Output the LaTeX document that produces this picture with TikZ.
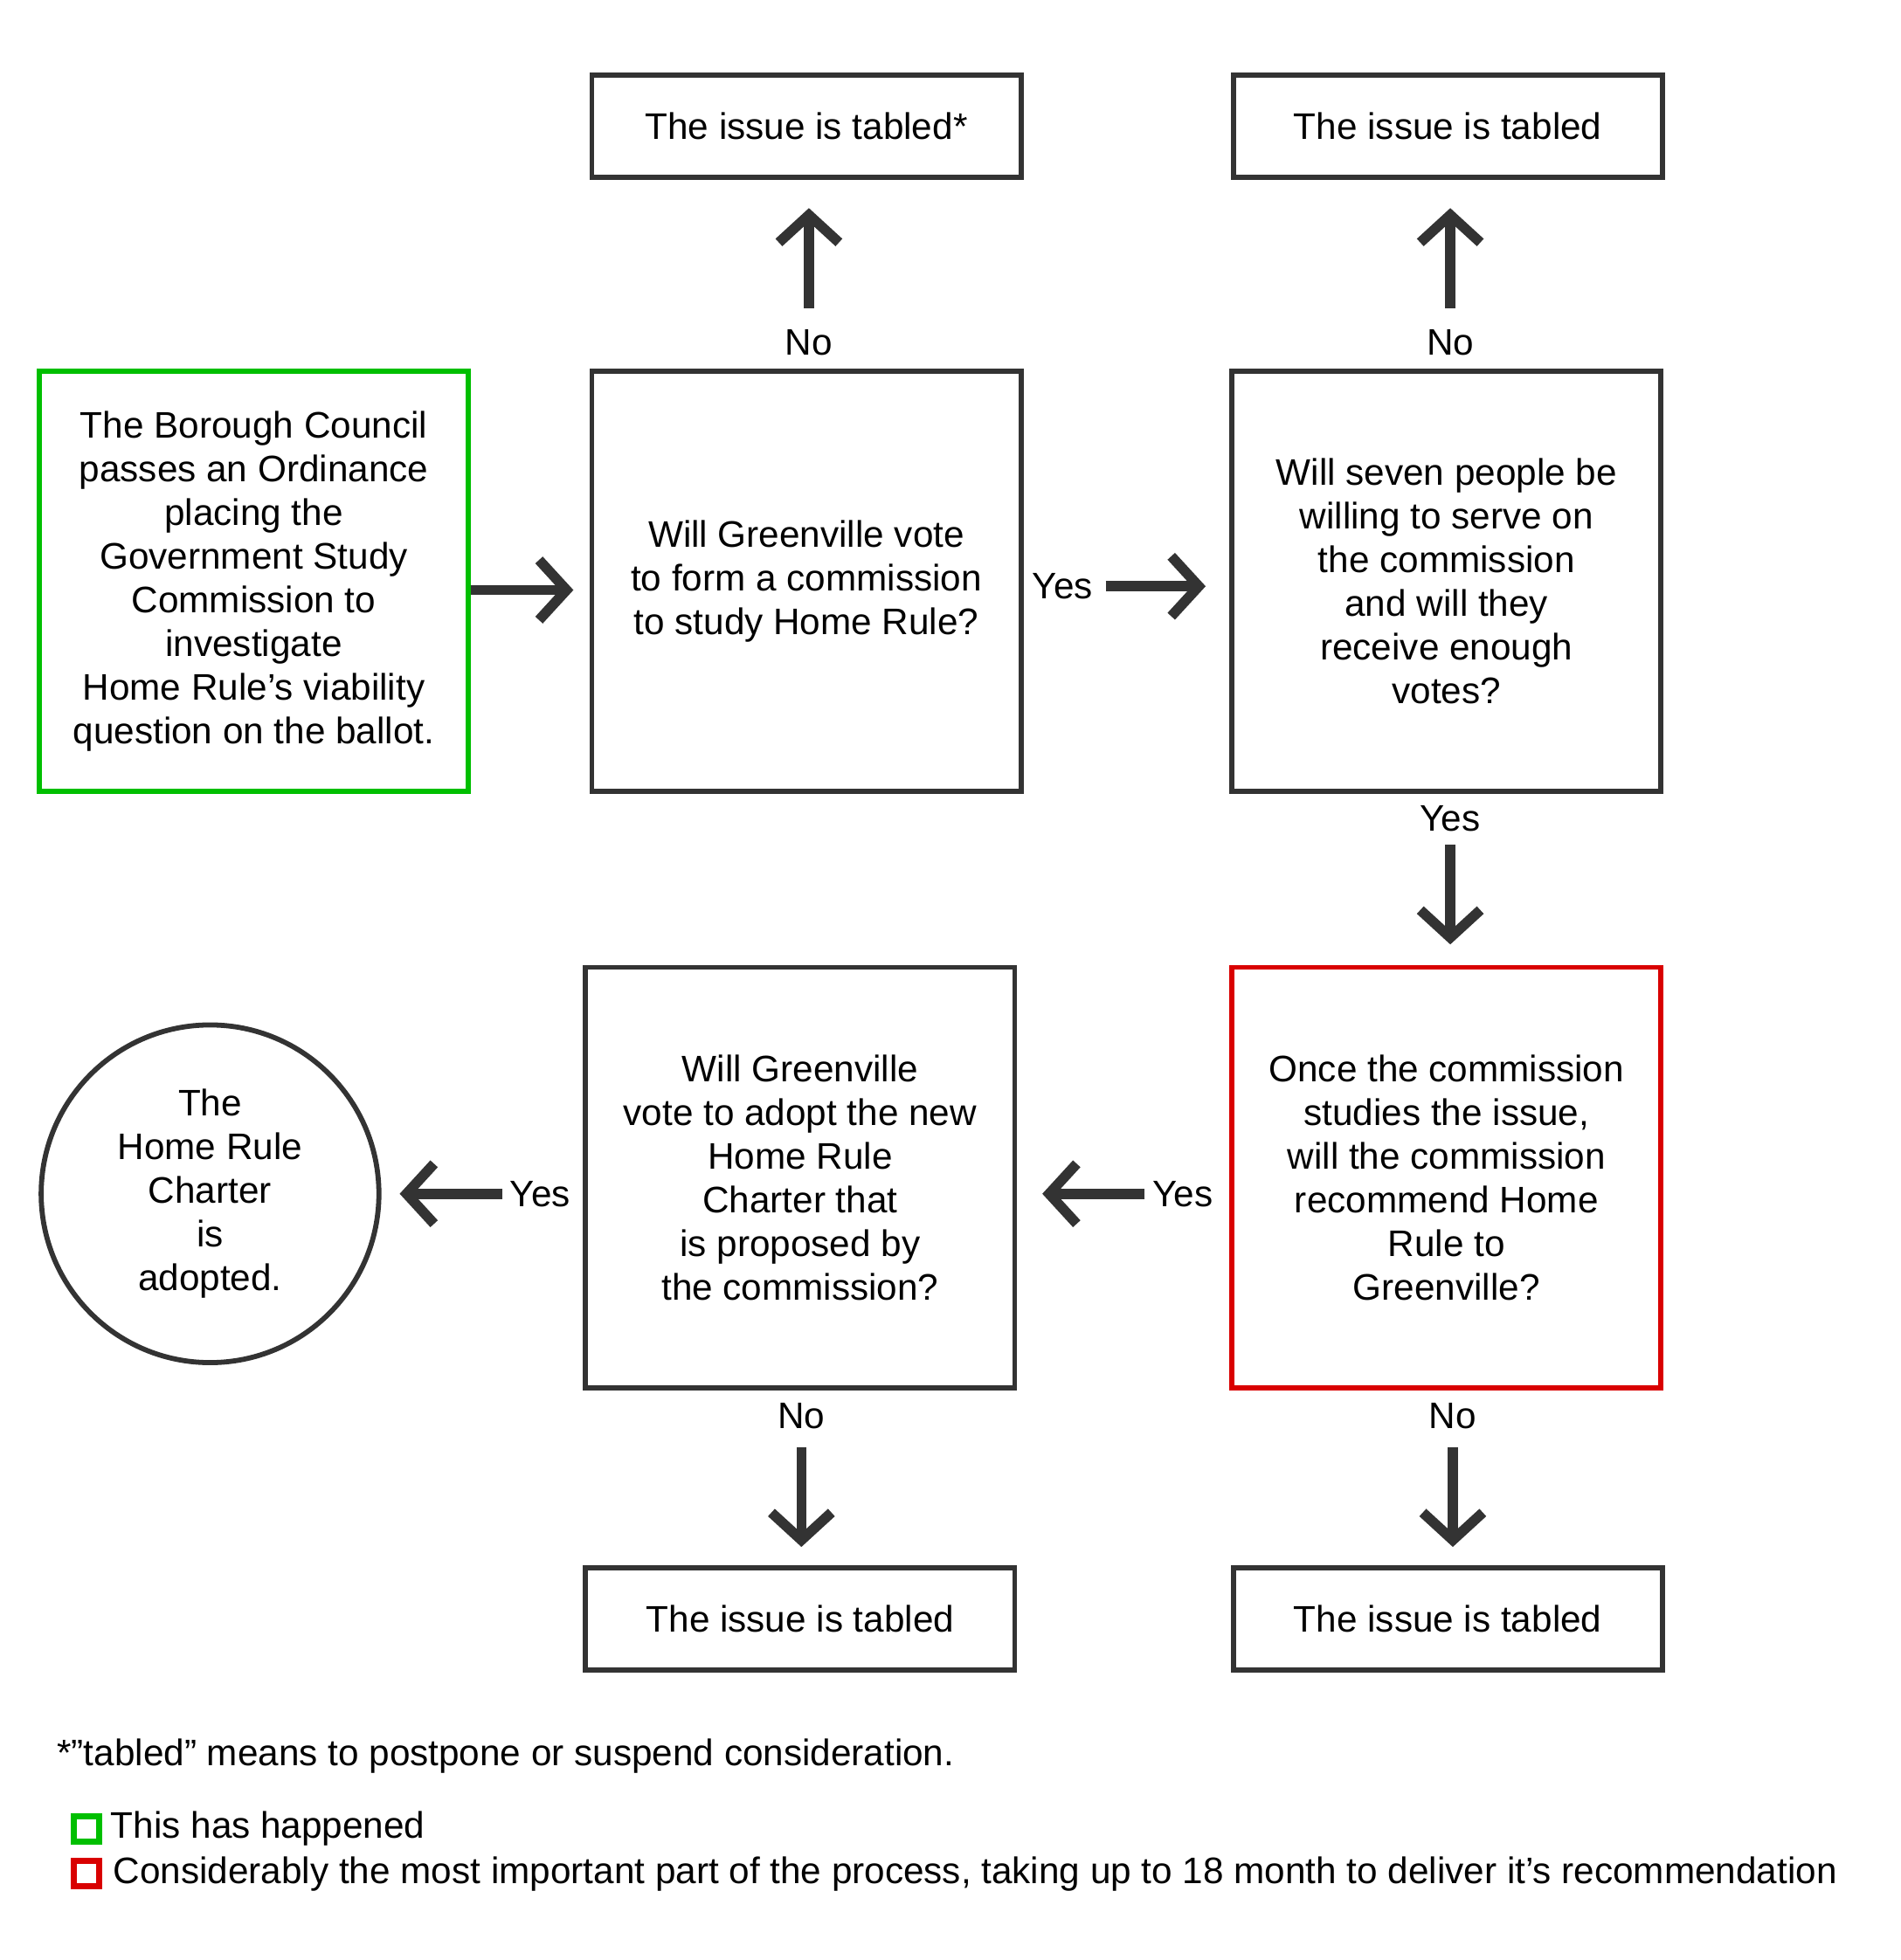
\documentclass[tikz,border=0pt]{standalone}
\usepackage{fontspec}
\setmainfont{Liberation Sans}
\usetikzlibrary{arrows.meta, positioning}

\begin{document}
\begin{tikzpicture}[x=0.01cm, y=-0.01cm, font=\fontsize{8.4}{9.95}\selectfont]
    \tikzstyle{stepbox} = [rectangle, draw=black!80, line width=1.15pt, minimum width=3.43cm, minimum height=3.36cm, align=center, inner sep=1pt]
    \tikzstyle{tabled} = [rectangle, draw=black!80, line width=1.15pt, minimum width=3.43cm, minimum height=0.82cm, align=center]
    \tikzstyle{lbl} = [inner sep=1pt]
    \tikzstyle{arrow} = [draw=black!80, line width=2.3pt, -{Straight Barb[length=2.2mm, width=4.8mm, line width=2.3pt]}]

    \useasboundingbox (0,0) rectangle (1520,1568);

    % top row
    \node[stepbox, draw=green!75!black] (council) at (203,465) {The Borough Council\\passes an Ordinance\\placing the\\Government Study\\Commission to\\investigate\\Home Rule's viability\\question on the ballot.};
    \node[stepbox] (vote1) at (645,465) {Will Greenville vote\\to form a commission\\to study Home Rule?};
    \node[stepbox] (serve) at (1157,465) {Will seven people be\\willing to serve on\\the commission\\and will they\\receive enough\\votes?};
    \node[tabled] (tab1) at (645,101) {The issue is tabled*};
    \node[tabled] (tab2) at (1158,101) {The issue is tabled};

    % bottom row
    \node[stepbox, draw=red!85!black] (study) at (1157,942) {Once the commission\\studies the issue,\\will the commission\\recommend Home\\Rule to\\Greenville?};
    \node[stepbox] (vote2) at (640,942) {Will Greenville\\vote to adopt the new\\Home Rule\\Charter that\\is proposed by\\the commission?};
    \node[circle, draw=black!80, line width=1.15pt, minimum size=2.7cm, align=center, inner sep=0pt] (charter) at (168,955) {The\\Home Rule\\Charter\\is\\adopted.};
    \node[tabled] (tab3) at (640,1295) {The issue is tabled};
    \node[tabled] (tab4) at (1158,1295) {The issue is tabled};

    % labels
    \node[lbl] (no1) at (647,274) {No};
    \node[lbl] (no2) at (1160,274) {No};
    \node[lbl] (yes1) at (850,469) {Yes};
    \node[lbl] (yes2) at (1160,655) {Yes};
    \node[lbl] (yes3) at (946,955) {Yes};
    \node[lbl] (yes4) at (432,955) {Yes};
    \node[lbl] (no3) at (641,1133) {No};
    \node[lbl] (no4) at (1162,1133) {No};

    % arrows
    \draw[arrow] (council.east |- 0,472) -- ++(82,0);
    \draw[arrow] (no1.north) ++(0,-13) -- ++(0,-80);
    \draw[arrow] (no2.north) ++(0,-13) -- ++(0,-80);
    \draw[arrow] (yes1.east) ++(6,0) -- ++(80,0);
    \draw[arrow] (yes2.south) ++(0,6) -- ++(0,80);
    \draw[arrow] (yes3.west) ++(-2,0) -- ++(-82,0);
    \draw[arrow] (yes4.west) ++(-2,0) -- ++(-82,0);
    \draw[arrow] (no3.south) ++(0,10) -- ++(0,80);
    \draw[arrow] (no4.south) ++(0,10) -- ++(0,80);

    % notes
    \node[anchor=west, inner sep=0pt] (note) at (45,1405) {*”tabled” means to postpone or suspend consideration.};
    \node[draw=green!75!black, line width=1.4pt, minimum size=0.2cm, inner sep=0pt] (keyg) at (69,1463) {};
    \node[anchor=west, inner sep=0pt] (keygt) at (88,1463) {This has happened};
    \node[draw=red!85!black, line width=1.4pt, minimum size=0.2cm, inner sep=0pt] (keyr) at (69,1499) {};
    \node[anchor=west, inner sep=0pt] (keyrt) at (90,1499) {Considerably the most important part of the process, taking up to 18 month to deliver it’s recommendation};
\end{tikzpicture}
\end{document}
